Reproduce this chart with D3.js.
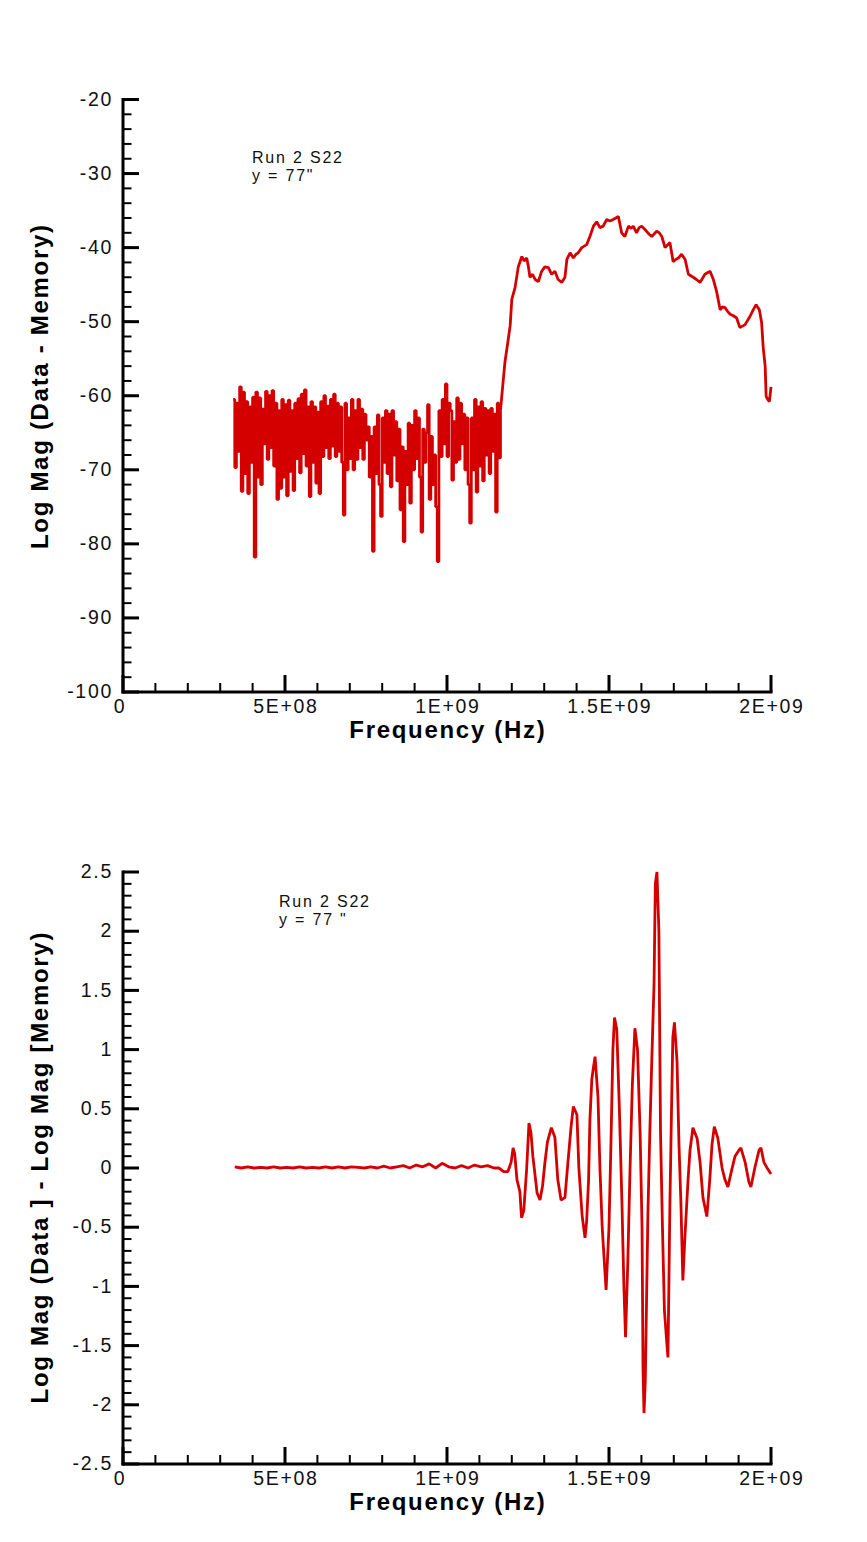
<!DOCTYPE html>
<html><head><meta charset="utf-8">
<script src="https://cdn.jsdelivr.net/npm/d3@7"></script>
<style>
body{margin:0;background:#fff;}
svg{display:block;font-family:"Liberation Sans",Arial,sans-serif;}
</style></head><body>
<svg id="c" width="867" height="1542"></svg>
<script>
// ---------------- data ----------------
const xTickValues = [0, 5e8, 1e9, 1.5e9, 2e9];
const xTickLabels = ["0", "5E+08", "1E+09", "1.5E+09", "2E+09"];
const topYTickValues = [-100, -90, -80, -70, -60, -50, -40, -30, -20];
const topYTickLabels = ["-100", "-90", "-80", "-70", "-60", "-50", "-40", "-30", "-20"];
const bottomYTickValues = [-2.5, -2, -1.5, -1, -0.5, 0, 0.5, 1, 1.5, 2, 2.5];
const bottomYTickLabels = ["-2.5", "-2", "-1.5", "-1", "-0.5", "0", "0.5", "1", "1.5", "2", "2.5"];

// Top panel: noisy part, sweep from 340 MHz with 5 MHz step (dB)
const topNoiseStartMHz = 340;
const topNoiseStepMHz = 5;
const topNoiseDb = [
 -60.5,-69.7,-61.0,-67.5,-58.8,-72.9,-59.5,-70.5,-60.8,-73.2,
 -61.5,-69.0,-60.2,-81.8,-59.5,-71.0,-60.3,-72.0,-61.8,-66.5,
 -59.4,-68.6,-60.0,-67.0,-59.3,-69.5,-61.0,-74.0,-62.0,-72.5,
 -60.5,-71.0,-61.2,-73.5,-60.6,-70.2,-62.0,-72.8,-61.0,-68.5,
 -60.4,-70.4,-59.8,-67.8,-59.2,-69.5,-61.5,-73.6,-60.8,-69.0,
 -61.5,-71.8,-62.2,-73.2,-60.8,-68.2,-60.0,-67.0,-61.4,-68.5,
 -60.5,-66.8,-59.8,-68.2,-61.0,-67.5,-61.5,-69.0,-76.1,-61.0,
 -70.0,-63.0,-68.5,-60.5,-70.0,-62.0,-68.6,-60.5,-67.0,-61.8,
 -68.6,-62.5,-66.0,-64.2,-71.0,-65.5,-81.0,-64.2,-70.5,-62.6,
 -72.0,-76.3,-63.0,-69.0,-62.0,-70.5,-62.5,-72.3,-62.0,-68.0,
 -63.5,-71.5,-64.5,-75.4,-66.9,-79.7,-67.5,-72.0,-63.7,-74.5,
 -64.0,-70.0,-62.0,-68.5,-63.0,-71.0,-78.4,-64.5,-69.0,-65.0,
 -61.2,-74.0,-65.5,-72.0,-68.0,-75.0,-82.4,-62.0,-68.2,-60.5,
 -66.5,-58.4,-68.2,-61.0,-62.0,-71.4,-63.5,-69.0,-60.3,-68.6,
 -61.0,-66.5,-62.5,-70.0,-63.0,-72.0,-77.2,-63.0,-70.0,-60.5,
 -73.0,-61.5,-69.5,-60.8,-71.5,-61.7,-68.0,-62.0,-70.5,-61.7,
 -67.5,-62.5,-75.7,-61.0,-68.4
];
// Top panel: smooth part (MHz, dB)
const topSmoothMHz = [1165,1169,1179,1189,1195,1200,1210,1220,1226,1231,1238,1246,1251,1256,1264,1272,1282,1292,1302,1313,
 1323,1333,1343,1354,1364,1370,1380,1390,1398,1405,1416,1431,1441,1452,1462,1472,1482,1493,1503,1513,
 1521,1529,1539,1549,1560,1568,1575,1585,1593,1601,1616,1624,1632,1647,1655,1663,1673,1688,1698,1706,
 1714,1724,1735,1745,1760,1770,1781,1796,1812,1822,1832,1843,1850,1858,1866,1874,1884,1894,1904,1912,
 1920,1935,1945,1954,1964,1971,1976,1982,1985,1990,1995,2000];
const topSmoothDb = [-62.0,-60.1,-55.4,-52.4,-50.5,-47.0,-45.4,-42.6,-41.8,-41.2,-41.8,-41.4,-42.5,-44.0,-43.6,-44.3,-44.6,-43.2,-42.6,-42.7,
 -43.6,-43.2,-44.3,-44.7,-44.0,-41.6,-40.7,-41.4,-40.9,-40.7,-40.0,-39.6,-38.5,-37.1,-36.5,-37.3,-37.1,-36.2,-36.4,-36.2,
 -36.0,-35.8,-38.0,-38.5,-37.1,-37.4,-37.1,-38.0,-37.3,-37.1,-37.8,-38.2,-38.5,-37.8,-38.0,-38.5,-40.0,-39.3,-41.9,-41.6,
 -41.4,-40.9,-41.6,-43.6,-44.0,-44.3,-44.7,-43.6,-43.2,-44.3,-45.9,-48.4,-48.0,-48.1,-48.6,-49.0,-49.2,-49.5,-50.8,-50.6,
 -50.4,-49.3,-48.4,-47.7,-48.4,-50.1,-53.5,-56.0,-60.1,-60.5,-60.8,-58.8];

// Bottom panel (MHz, value)
const bottomFlatMHz = [345,365,385,405,425,445,465,485,505,525,545,565,585,605,625,645,665,685,705,725,
 745,765,785,805,825,845,865,885,905,925,945,965,985,1005,1025,1045,1065,1085,1105,1125,1145,1160,1175,1188,1198];
const bottomFlatVal = [0.01,0.0,0.01,0.0,0.005,0.0,0.01,0.0,0.005,0.0,0.01,0.0,0.005,0.0,0.01,0.0,0.01,0.0,0.01,0.005,
 0.0,0.01,0.0,0.015,0.0,0.01,0.02,0.0,0.025,0.01,0.035,0.0,0.04,0.01,0.0,0.02,0.0,0.025,0.01,0.02,0.0,0.0,-0.03,-0.03,0.05];
const bottomOscMHz = [1204,1209,1216,1225,1230,1237,1246,1253,1259,1265,1278,1287,1295,1302,1310,1318,1322,1333,1342,1352,
 1364,1373,1383,1390,1401,1407,1417,1426,1431,1437,1441,1447,1452,1457,1466,1472,1479,1488,1491,1500,
 1506,1512,1517,1524,1532,1540,1546,1551,1558,1565,1572,1580,1588,1596,1602,1605,1608,1612,1620,1626,
 1632,1639,1643,1648,1654,1659,1665,1671,1679,1682,1688,1693,1697,1702,1710,1716,1722,1728,1734,1744,
 1750,1759,1772,1781,1790,1802,1811,1818,1825,1836,1849,1858,1867,1876,1889,1901,1907,1920,1932,1938,
 1950,1963,1969,1978,1988,2000];
const bottomOscVal = [0.17,0.12,-0.10,-0.20,-0.42,-0.36,0.00,0.38,0.30,0.10,-0.21,-0.27,-0.15,0.04,0.22,0.30,0.34,0.26,-0.10,-0.27,
 -0.25,0.04,0.35,0.52,0.45,0.00,-0.40,-0.59,-0.45,-0.10,0.40,0.75,0.85,0.94,0.60,0.00,-0.50,-0.90,-1.03,-0.50,
 0.20,1.00,1.27,1.17,0.50,-0.30,-1.00,-1.43,-0.80,0.00,0.70,1.18,1.00,0.30,-0.50,-1.70,-2.07,-1.80,-0.40,0.30,
 0.90,1.55,2.40,2.50,2.00,0.30,-0.50,-1.20,-1.50,-1.60,-0.30,0.50,1.10,1.23,0.90,0.20,-0.30,-0.95,-0.60,-0.10,
 0.15,0.34,0.25,0.05,-0.25,-0.41,-0.10,0.20,0.35,0.25,0.00,-0.10,-0.16,-0.05,0.10,0.15,0.17,0.05,-0.12,-0.16,
 0.00,0.15,0.17,0.05,0.00,-0.05];

// ---------------- build series ----------------
const topNoiseSeries = topNoiseDb.map((v, i) => [(topNoiseStartMHz + i * topNoiseStepMHz) * 1e6, v]);
const topSmoothSeries = topSmoothMHz.map((f, i) => [f * 1e6, topSmoothDb[i]]);
const bottomSeries = bottomFlatMHz.map((f, i) => [f * 1e6, bottomFlatVal[i]])
  .concat(bottomOscMHz.map((f, i) => [f * 1e6, bottomOscVal[i]]));

const svg = d3.select("#c");
svg.append("rect").attr("width", 867).attr("height", 1542).attr("fill", "#fff");

const LINE = "#d40000";
const TICKFONT = 19.5, TICKSP = 1.7;

function drawPanel(p) {
  const g = svg.append("g");
  const x = d3.scaleLinear().domain([0, 2e9]).range([123, 771]);
  const y = d3.scaleLinear().domain(p.yDomain).range([p.yBottom, p.yTop]);

  p.segments.forEach(s => {
    g.append("path").datum(s.data)
      .attr("d", d3.line().curve(s.curve).x(d => x(d[0])).y(d => y(d[1])))
      .attr("fill", "none").attr("stroke", LINE).attr("stroke-width", 2.8)
      .attr("stroke-linejoin", "bevel");
  });

  // minor ticks
  const yMinor = d3.range(p.yDomain[0], p.yDomain[1] + p.minor / 2, p.minor);
  g.append("g").attr("transform", "translate(123,0)")
    .call(d3.axisLeft(y).tickValues(yMinor).tickSize(-8.5).tickFormat("").offset(0))
    .call(a => a.select(".domain").remove())
    .selectAll("line").attr("stroke", "#000").attr("stroke-width", 2);
  const xMinor = d3.range(0, 2e9 + 1, 1e8);
  g.append("g").attr("transform", `translate(0,${p.yBottom})`)
    .call(d3.axisBottom(x).tickValues(xMinor).tickSize(-9).tickFormat("").offset(0))
    .call(a => a.select(".domain").remove())
    .selectAll("line").attr("stroke", "#000").attr("stroke-width", 2);

  // major y axis
  const ya = g.append("g").attr("transform", "translate(123,0)")
    .call(d3.axisLeft(y).tickValues(p.yTicks).tickSize(-16).tickSizeOuter(0).tickPadding(10).offset(0)
      .tickFormat((d, i) => p.yLabels[i]));
  ya.attr("font-family", null).attr("font-size", null);
  ya.select(".domain").attr("stroke", "#000").attr("stroke-width", 3).attr("stroke-linecap", "square");
  ya.selectAll("line").attr("stroke", "#000").attr("stroke-width", 3);
  ya.selectAll("text").attr("font-size", TICKFONT).attr("letter-spacing", TICKSP).attr("fill", "#111");

  // major x axis
  const xa = g.append("g").attr("transform", `translate(0,${p.yBottom})`)
    .call(d3.axisBottom(x).tickValues(xTickValues).tickSize(-17).tickSizeOuter(0).tickPadding(7).offset(0)
      .tickFormat((d, i) => xTickLabels[i]));
  xa.attr("font-family", null).attr("font-size", null);
  xa.select(".domain").attr("stroke", "#000").attr("stroke-width", 3).attr("stroke-linecap", "square");
  xa.selectAll("line").attr("stroke", "#000").attr("stroke-width", 3);
  xa.selectAll("text").attr("font-size", TICKFONT).attr("letter-spacing", TICKSP)
    .attr("dx", (d, i) => i === 0 ? -3 : TICKSP / 2).attr("fill", "#111");

  // titles
  g.append("text").attr("x", 447).attr("y", p.yBottom + 46).attr("text-anchor", "middle")
    .attr("font-weight", "bold").attr("font-size", 24).attr("letter-spacing", 1.7).attr("dx", 0.85)
    .text("Frequency (Hz)");
  g.append("text").attr("transform", `translate(48,${p.yTitleCenter}) rotate(-90)`).attr("text-anchor", "middle")
    .attr("font-weight", "bold").attr("font-size", 24).attr("letter-spacing", 1.7).attr("dx", 0.85)
    .text(p.yTitle);

  // annotation
  p.note.forEach((t, i) => {
    g.append("text").attr("x", p.noteX).attr("y", p.noteY + i * 17.5)
      .attr("font-size", 16).attr("letter-spacing", 1.8).attr("fill", "#111").text(t);
  });
}

drawPanel({
  segments: [
    { data: topNoiseSeries.concat([topSmoothSeries[0]]), curve: d3.curveStepAfter },
    { data: topSmoothSeries, curve: d3.curveLinear }
  ],
  yDomain: [-100, -20], yTop: 99.5, yBottom: 692, minor: 2,
  yTicks: topYTickValues, yLabels: topYTickLabels,
  yTitle: "Log Mag (Data - Memory)", yTitleCenter: 387,
  note: ["Run 2 S22", "y = 77\""], noteX: 252, noteY: 163
});
drawPanel({
  segments: [{ data: bottomSeries, curve: d3.curveLinear }],
  yDomain: [-2.5, 2.5], yTop: 872, yBottom: 1464, minor: 0.1,
  yTicks: bottomYTickValues, yLabels: bottomYTickLabels,
  yTitle: "Log Mag (Data ] - Log Mag [Memory)", yTitleCenter: 1168,
  note: ["Run 2 S22", "y = 77 \""], noteX: 279, noteY: 907
});
</script>
</body></html>
